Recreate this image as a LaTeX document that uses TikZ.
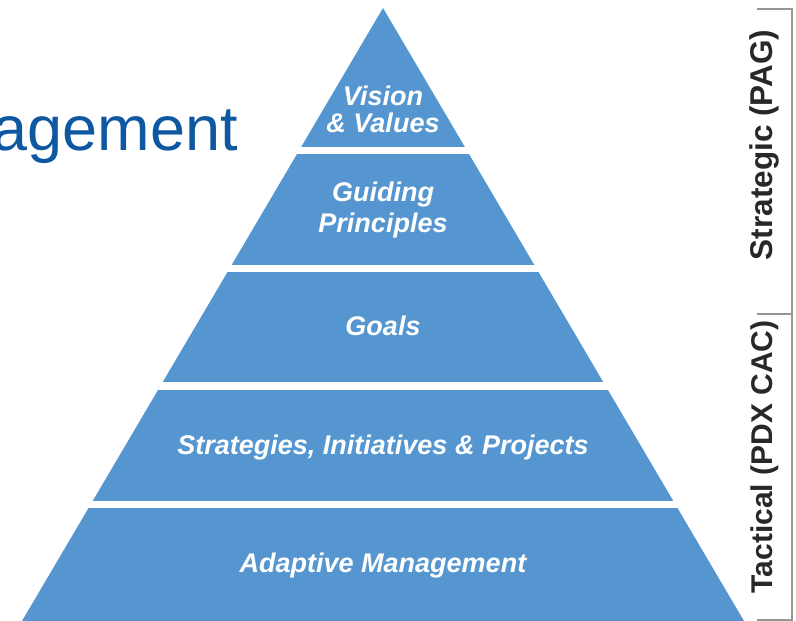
\documentclass[tikz,border=0pt]{standalone}
\usepackage{fontspec}
\setmainfont{Liberation Sans}
\definecolor{pyrblue}{RGB}{85,150,208}
\definecolor{titleblue}{RGB}{14,88,162}
\definecolor{labeldark}{RGB}{40,40,40}
\definecolor{bracketgray}{RGB}{150,150,150}
\tikzset{
  layertext/.style={text=white, font=\bfseries\itshape\fontsize{27}{27}\selectfont, inner sep=0pt, align=center},
  sidelabel/.style={text=labeldark, font=\bfseries\fontsize{30}{30}\selectfont, inner sep=0pt, rotate=90, anchor=base},
  bracket/.style={draw=bracketgray, line width=1.4pt},
}
\begin{document}
\begin{tikzpicture}[x=1pt, y=-1pt]
\useasboundingbox (0,0) rectangle (796,621);
% title fragment
\node[text=titleblue, font=\fontsize{63}{63}\selectfont, inner sep=0pt, anchor=base east] (title) at (238,150) {agement};
% pyramid layers
\begin{scope}
  \clip (383,8) -- (744,621) -- (22,621) -- cycle;
  \fill[pyrblue] (0,0) rectangle (796,147);
  \fill[pyrblue] (0,154) rectangle (796,265);
  \fill[pyrblue] (0,271.5) rectangle (796,382);
  \fill[pyrblue] (0,389.5) rectangle (796,500.5);
  \fill[pyrblue] (0,508) rectangle (796,621);
\end{scope}
% layer texts
\node[layertext, font=\bfseries\itshape\fontsize{27}{27}\selectfont] (vision) at (383,109) {Vision\\\& Values};
\node[layertext, font=\bfseries\itshape\fontsize{27}{31}\selectfont] (guiding) at (383,210) {Guiding\\Principles};
\node[layertext, anchor=base] (goals) at (383,335) {Goals};
\node[layertext, anchor=base] (strat) at (383,454) {Strategies, Initiatives \& Projects};
\node[layertext, anchor=base] (adapt) at (383,572) {Adaptive Management};
% side brackets
\coordinate (btop) at (792,9);
\coordinate (bmid) at (792,314);
\coordinate (bbot) at (792,620);
\draw[bracket] (757,9) -- (btop) -- (bbot) -- (757,620);
\draw[bracket] (757,314) -- (bmid);
% side labels
\node[sidelabel, font=\bfseries\fontsize{31.5}{31.5}\selectfont] (strategic) at (772,145) {Strategic (PAG)};
\node[sidelabel] (tactical) at (772,457) {Tactical (PDX CAC)};
\end{tikzpicture}
\end{document}
